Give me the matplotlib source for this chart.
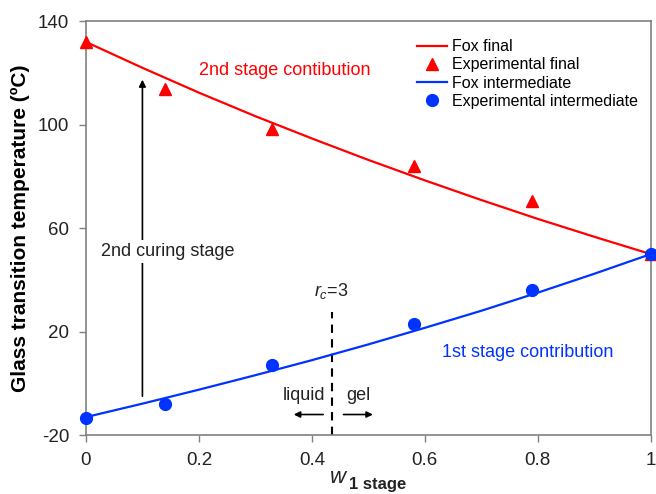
import numpy as np
import matplotlib
matplotlib.use('Agg')
import matplotlib.pyplot as plt

# 字型設定
plt.rcParams['font.family'] = ['Liberation Sans', 'DejaVu Sans']
plt.rcParams['mathtext.fontset'] = 'custom'
plt.rcParams['mathtext.rm'] = 'Liberation Sans'
plt.rcParams['mathtext.it'] = 'Liberation Sans:italic'
plt.rcParams['mathtext.bf'] = 'Liberation Sans:bold'
plt.rcParams['axes.unicode_minus'] = False

# --- data ---
w_fox = [0.0, 0.1, 0.2, 0.3, 0.4, 0.5, 0.6, 0.7, 0.8, 0.9, 1.0]
tg_fox_final = [132.0, 122.0, 112.4, 103.3, 94.7, 86.4, 78.5, 70.9, 63.6, 56.7, 50.0]
tg_fox_inter = [-13.0, -7.8, -2.4, 3.2, 9.0, 15.1, 21.5, 28.1, 35.1, 42.4, 50.0]

w_exp = [0.0, 0.14, 0.33, 0.58, 0.79, 1.0]
tg_exp_final = [132.0, 114.0, 98.5, 84.0, 70.5, 50.0]
tg_exp_inter = [-13.5, -8.0, 7.0, 23.0, 36.0, 50.0]

x_ticks = [0, 0.2, 0.4, 0.6, 0.8, 1]
x_ticklabels = ['0', '0.2', '0.4', '0.6', '0.8', '1']
y_ticks = [-20, 20, 60, 100, 140]

rc_pos = 0.435

fig = plt.figure(figsize=(6.56, 4.94), dpi=100)
ax = fig.add_axes([0.131, 0.119, 0.861, 0.838])

red = '#ff0000'
blue = '#0033ff'
txt = '#222222'

ax.plot(w_fox, tg_fox_final, color=red, lw=1.6, label='Fox final', zorder=3)
ax.plot(w_exp, tg_exp_final, '^', color=red, ms=8.5, ls='none', label='Experimental final', zorder=4,
        clip_on=False)
ax.plot(w_fox, tg_fox_inter, color=blue, lw=1.6, label='Fox intermediate', zorder=3)
ax.plot(w_exp, tg_exp_inter, 'o', color=blue, ms=8.5, ls='none', label='Experimental intermediate', zorder=4,
        clip_on=False)

# 虛線 r_c = 3
ax.plot([rc_pos, rc_pos], [-20, 27.5], color='black', ls=(0, (4, 3)), lw=1.5)
ax.text(rc_pos, 32, r'$\mathit{r}_{\mathit{c}}$=3', ha='center', va='bottom', fontsize=13, color=txt)
ax.text(0.386, -4.8, 'liquid', ha='center', va='center', fontsize=13, color=txt)
ax.text(0.482, -4.8, 'gel', ha='center', va='center', fontsize=13, color=txt)
ax.annotate('', xy=(0.363, -12), xytext=(0.425, -12),
            arrowprops=dict(arrowstyle='-|>', color='black', lw=1.2, mutation_scale=9))
ax.annotate('', xy=(0.513, -12), xytext=(0.451, -12),
            arrowprops=dict(arrowstyle='-|>', color='black', lw=1.2, mutation_scale=9))

# 2nd curing stage arrow
ax.annotate('', xy=(0.1, 118.5), xytext=(0.1, -6),
            arrowprops=dict(arrowstyle='-|>', color='black', lw=1.2, mutation_scale=10))
ax.text(0.145, 51, '2nd curing stage', ha='center', va='center', fontsize=13, color=txt,
        bbox=dict(facecolor='white', edgecolor='none', pad=2))

ax.text(0.2, 121, '2nd stage contibution', ha='left', va='center', fontsize=13, color=red)
ax.text(0.63, 12, '1st stage contribution', ha='left', va='center', fontsize=13, color=blue)

ax.set_xlim(0, 1)
ax.set_ylim(-20, 140)
ax.set_xticks(x_ticks)
ax.set_xticklabels(x_ticklabels)
ax.set_yticks(y_ticks)
ax.tick_params(direction='out', length=5, width=1, color='#808080', labelsize=13.5,
               labelcolor=txt, top=False, right=False, pad=7)
for s in ax.spines.values():
    s.set_color('#808080')
    s.set_linewidth(1.2)

ax.set_ylabel('Glass transition temperature (ºC)', fontsize=15, fontweight='bold', labelpad=6)

# x 軸標題：w 1 stage
fig.text(0.503, 0.022, 'w', fontsize=16, style='italic', va='baseline', ha='left', color=txt)
fig.text(0.532, 0.010, '1 stage', fontsize=12, fontweight='bold', va='baseline', ha='left', color=txt)

ax.legend(loc='upper right', frameon=False, fontsize=11.5, handlelength=1.9, handletextpad=0.3,
          labelspacing=0.2, bbox_to_anchor=(1.006, 0.995), borderaxespad=0.6)

fig.savefig('out.png', dpi=100)
